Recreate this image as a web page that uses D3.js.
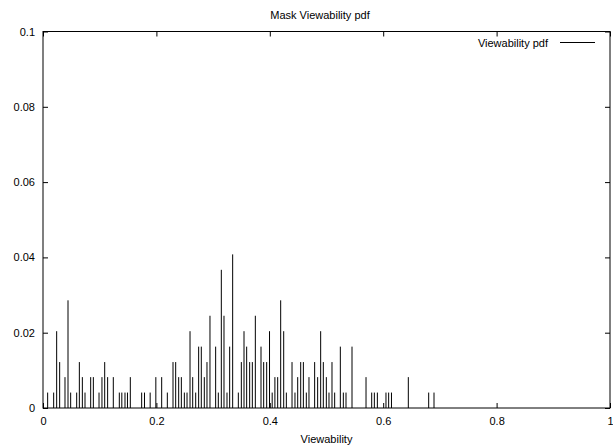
<!DOCTYPE html>
<html>
<head>
<meta charset="utf-8">
<script src="https://cdn.jsdelivr.net/npm/d3@7"></script>
<style>
  body { margin: 0; background: #fff; }
  svg text { font-family: "Liberation Sans", Arial, Helvetica, sans-serif; font-size: 11px; fill: #000; }
</style>
</head>
<body>
<div class="chart-container"></div>
<script>
//! CONSTS
const WIDTH = 613;
const HEIGHT = 445;
const MARGIN = { top: 31.5, right: 3, bottom: 37, left: 43 };

// viewability bins (x) and their pdf value (y)
const viewability = [
  0.0082, 0.0188, 0.0241, 0.0294, 0.0388, 0.0441, 0.0488, 0.0594, 0.0641, 0.0694,
  0.0741, 0.0841, 0.0888, 0.0988, 0.1040, 0.1088, 0.1140, 0.1240, 0.1346, 0.1390,
  0.1446, 0.1490, 0.1540, 0.1740, 0.1790, 0.1890, 0.1990, 0.2093, 0.2193, 0.2293,
  0.2340, 0.2393, 0.2440, 0.2493, 0.2540, 0.2593, 0.2640, 0.2693, 0.2745, 0.2792,
  0.2845, 0.2892, 0.2945, 0.3045, 0.3092, 0.3145, 0.3192, 0.3245, 0.3292, 0.3345,
  0.3445, 0.3498, 0.3545, 0.3592, 0.3645, 0.3692, 0.3745, 0.3845, 0.3892, 0.3945,
  0.3995, 0.4042, 0.4090, 0.4139, 0.4192, 0.4245, 0.4292, 0.4392, 0.4444, 0.4492,
  0.4545, 0.4592, 0.4644, 0.4691, 0.4791, 0.4844, 0.4897, 0.4944, 0.4997, 0.5044,
  0.5097, 0.5144, 0.5244, 0.5297, 0.5344, 0.5450, 0.5697, 0.5797, 0.5844, 0.5897,
  0.6049, 0.6096, 0.6146, 0.6443, 0.6802, 0.6896
];
const pdf = [
  0.0041, 0.0041, 0.0204, 0.0122, 0.0082, 0.0286, 0.0041, 0.0041, 0.0122, 0.0082,
  0.0041, 0.0082, 0.0082, 0.0041, 0.0082, 0.0122, 0.0082, 0.0082, 0.0041, 0.0041,
  0.0041, 0.0041, 0.0082, 0.0041, 0.0041, 0.0041, 0.0082, 0.0082, 0.0041, 0.0122,
  0.0122, 0.0082, 0.0082, 0.0041, 0.0041, 0.0204, 0.0082, 0.0041, 0.0163, 0.0163,
  0.0082, 0.0122, 0.0245, 0.0163, 0.0041, 0.0367, 0.0245, 0.0041, 0.0163, 0.0408,
  0.0041, 0.0122, 0.0204, 0.0163, 0.0122, 0.0122, 0.0245, 0.0163, 0.0122, 0.0122,
  0.0204, 0.0041, 0.0082, 0.0082, 0.0286, 0.0204, 0.0041, 0.0122, 0.0041, 0.0082,
  0.0122, 0.0122, 0.0041, 0.0082, 0.0122, 0.0082, 0.0204, 0.0122, 0.0082, 0.0041,
  0.0122, 0.0041, 0.0163, 0.0041, 0.0041, 0.0163, 0.0082, 0.0041, 0.0041, 0.0041,
  0.0041, 0.0041, 0.0041, 0.0082, 0.0041, 0.0041
];
const xTicks = [0, 0.2, 0.4, 0.6, 0.8, 1];
const yTicks = [0, 0.02, 0.04, 0.06, 0.08, 0.1];

const TITLE = 'Mask Viewability pdf';
const X_LABEL = 'Viewability';
const LEGEND = 'Viewability pdf';

const data = viewability.map((v, i) => ({ x: v, y: pdf[i] }));

//! SVG
const svg = d3.select('.chart-container')
  .append('svg')
  .attr('width', WIDTH)
  .attr('height', HEIGHT);

const x = d3.scaleLinear().domain([0, 1]).range([MARGIN.left, WIDTH - MARGIN.right]);
const y = d3.scaleLinear().domain([0, 0.1]).range([HEIGHT - MARGIN.bottom, MARGIN.top]);

const fmt = d => d3.format('~g')(d);

// impulses
svg.append('g')
  .selectAll('line')
  .data(data)
  .enter()
  .append('line')
  .attr('x1', d => x(d.x))
  .attr('x2', d => x(d.x))
  .attr('y1', y(0))
  .attr('y2', d => y(d.y))
  .attr('stroke', '#000')
  .attr('stroke-width', 1);

// axes, gnuplot style: inward ticks, mirrored
const styleAxis = g => {
  g.select('.domain').remove();
  g.selectAll('.tick line').attr('stroke', '#000');
  g.selectAll('.tick text').style('font-family', null).style('font-size', null).attr('fill', '#000');
};

svg.append('g')
  .attr('transform', `translate(0,${y(0)})`)
  .call(d3.axisBottom(x).tickValues(xTicks).tickFormat(fmt).tickSizeInner(-5).tickSizeOuter(0).tickPadding(9))
  .attr('font-family', null).attr('font-size', null)
  .call(styleAxis);

svg.append('g')
  .attr('transform', `translate(0,${y(0.1)})`)
  .call(d3.axisTop(x).tickValues(xTicks).tickFormat('').tickSizeInner(-5).tickSizeOuter(0))
  .call(styleAxis);

svg.append('g')
  .attr('transform', `translate(${x(0)},0)`)
  .call(d3.axisLeft(y).tickValues(yTicks).tickFormat(fmt).tickSizeInner(-5).tickSizeOuter(0).tickPadding(8))
  .attr('font-family', null).attr('font-size', null)
  .call(styleAxis);

svg.append('g')
  .attr('transform', `translate(${x(1)},0)`)
  .call(d3.axisRight(y).tickValues(yTicks).tickFormat('').tickSizeInner(-5).tickSizeOuter(0))
  .call(styleAxis);

// frame
svg.append('rect')
  .attr('x', x(0))
  .attr('y', y(0.1))
  .attr('width', x(1) - x(0))
  .attr('height', y(0) - y(0.1))
  .attr('fill', 'none')
  .attr('stroke', '#000')
  .attr('stroke-width', 1);

// titles
svg.append('text')
  .attr('x', 320)
  .attr('y', 19)
  .attr('text-anchor', 'middle')
  .text(TITLE);

svg.append('text')
  .attr('x', (x(0) + x(1)) / 2)
  .attr('y', 442.5)
  .attr('text-anchor', 'middle')
  .text(X_LABEL);

// legend
svg.append('text')
  .attr('x', 548)
  .attr('y', 46.5)
  .attr('text-anchor', 'end')
  .text(LEGEND);

svg.append('line')
  .attr('x1', 560)
  .attr('x2', 595)
  .attr('y1', 42.5)
  .attr('y2', 42.5)
  .attr('stroke', '#000');
</script>
</body>
</html>
